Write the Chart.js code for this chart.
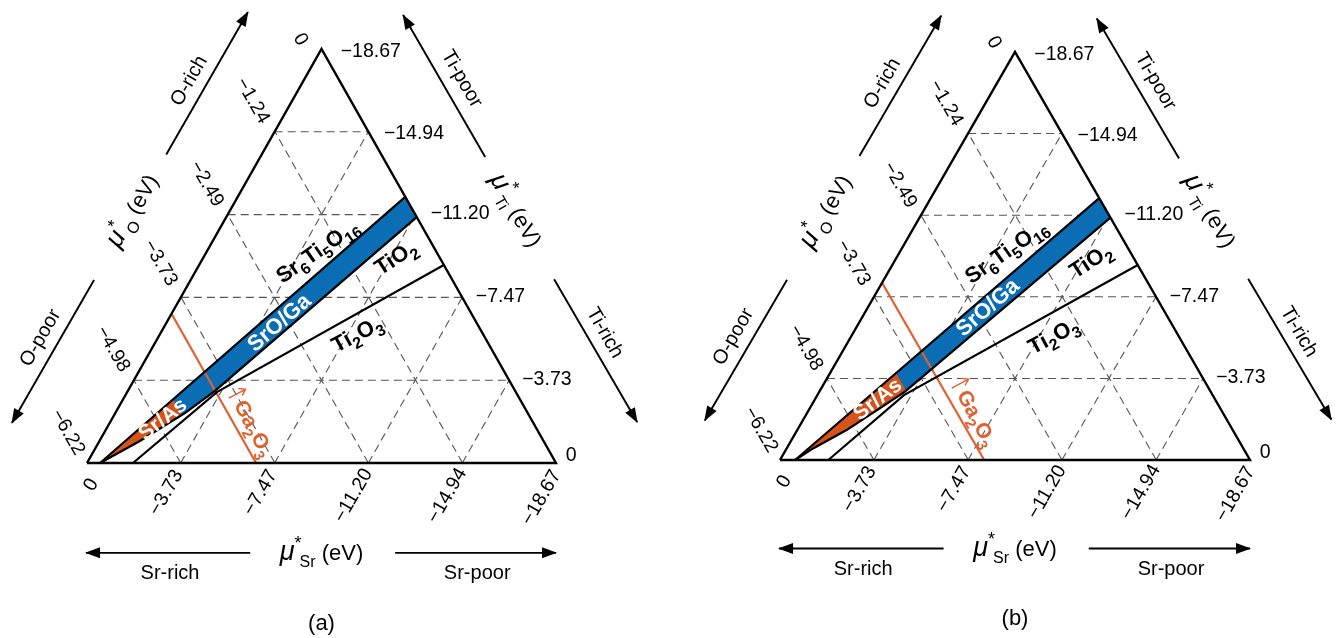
<!DOCTYPE html>
<html>
<head>
<meta charset="utf-8">
<title>SrTiO3 chemical potential diagrams</title>
<script src="https://cdn.jsdelivr.net/npm/chart.js@4.4.1/dist/chart.umd.min.js"></script>
<style>
  html, body { margin: 0; padding: 0; background: #fff; }
  #wrap { position: relative; width: 1336px; height: 638px; overflow: hidden; }
  #wrap canvas { position: absolute; top: 0; }
</style>
</head>
<body>
<div id="wrap">
  <canvas id="chartA" width="668" height="638" style="left:0px"></canvas>
  <canvas id="chartB" width="668" height="638" style="left:668px"></canvas>
</div>
<script>
// SrTiO3 stability: muSr + muTi + 3 muO = dH
var dH = -18.67;
var srTicks = [0, -3.73, -7.47, -11.20, -14.94, -18.67];
var tiTicks = [0, -3.73, -7.47, -11.20, -14.94, -18.67];
var oTicks = [0, -1.24, -2.49, -3.73, -4.98, -6.22];
var srTickText = ['0', '\u22123.73', '\u22127.47', '\u221211.20', '\u221214.94', '\u221218.67'];
var tiTickText = ['0', '\u22123.73', '\u22127.47', '\u221211.20', '\u221214.94', '\u221218.67'];
var oTickText = ['0', '\u22121.24', '\u22122.49', '\u22123.73', '\u22124.98', '\u22126.22'];

// (a) boundaries, as (muSr, muTi) pairs
var aSr6Ti5O16Sr = [-0.52, -6.67];
var aSr6Ti5O16Ti = [0, -12.00];
var aTiO2Sr = [-7.58, -3.47, -2.77, -1.61, -0.52];
var aTiO2Ti = [-11.09, -3.25, -2.25, -0.99, 0];
var aTi2O3Sr = [-9.74, -3.57, -1.83];
var aTi2O3Ti = [-8.93, -3.20, 0];
var aGa2O3O = -3.98;   // muO of the Ga2O3 limit
var aSrAsO = -4.61;    // muO splitting Sr/As from SrO/Ga

// (b) boundaries
var bSr6Ti5O16Sr = [-0.60, -6.69];
var bSr6Ti5O16Ti = [0, -11.98];
var bTiO2Sr = [-7.58, -3.40, -2.79, -1.96, -1.06, -0.60];
var bTiO2Ti = [-11.09, -3.13, -2.37, -1.37, -0.54, 0];
var bTi2O3Sr = [-9.75, -3.44, -1.92];
var bTi2O3Ti = [-8.92, -2.97, 0];
var bGa2O3O = -3.52;
var bSrAsO = -4.03;

var FONT = "'Liberation Sans', Arial, Helvetica, sans-serif";
var BLUE = '#0b6db4';
var ORANGE_FILL = '#d4541b';
var ORANGE = '#e0602e';
var GRID = '#555555';
var canvasW = 668, canvasH = 638;

// fractions (fSr, fTi); fO = 1 - fSr - fTi
function toFrac(muSr, muTi) { return [muSr / dH, muTi / dH]; }
function toXY(f) { return { x: f[0] + f[1] / 2, y: f[1] }; }

function boundary(srVals, tiVals) {
  return srVals.map(function (s, i) { return toXY(toFrac(s, tiVals[i])); });
}

// keep the part of a polygon on one side of a constant-muO line
function splitByO(poly, muO, poorSide) {
  var c = 3 * muO / dH;
  var out = [];
  for (var i = 0; i < poly.length; i++) {
    var p = poly[i], q = poly[(i + 1) % poly.length];
    var dp = (1 - p[0] - p[1]) - c, dq = (1 - q[0] - q[1]) - c;
    if (!poorSide) { dp = -dp; dq = -dq; }
    if (dp >= 0) out.push(p);
    if ((dp >= 0) !== (dq >= 0)) {
      var t = dp / (dp - dq);
      out.push([p[0] + t * (q[0] - p[0]), p[1] + t * (q[1] - p[1])]);
    }
  }
  out.push(out[0]);
  return out.map(toXY);
}

function line(points, color, width, order, extra) {
  var ds = {
    data: points, showLine: true, borderColor: color, borderWidth: width,
    pointRadius: 0, pointHoverRadius: 0, fill: false, tension: 0,
    order: order, clip: false, borderJoinStyle: 'miter'
  };
  for (var k in extra || {}) ds[k] = extra[k];
  return ds;
}

var arrows = [
  [0.169, 0.745, 0.343, 1.089],   // O-rich
  [0.849, 0.739, 0.674, 1.082],   // Ti-poor
  [0.015, 0.442, -0.160, 0.097],  // O-poor
  [0.996, 0.444, 1.173, 0.099],   // Ti-rich
  [0.348, -0.217, -0.002, -0.217],// Sr-rich
  [0.657, -0.217, 1.000, -0.217]  // Sr-poor
];

function buildDatasets(p) {
  var sets = [];
  var dash = { borderDash: [8, 5] };
  // dashed grid
  for (var i = 1; i < 5; i++) {
    var fs = srTicks[i] / dH, ft = tiTicks[i] / dH, fo = 3 * oTicks[i] / dH;
    sets.push(line([toXY([fs, 0]), toXY([fs, 1 - fs])], GRID, 1.1, 5, dash));
    sets.push(line([toXY([0, ft]), toXY([1 - ft, ft])], GRID, 1.1, 5, dash));
    sets.push(line([toXY([1 - fo, 0]), toXY([0, 1 - fo])], GRID, 1.1, 5, dash));
  }
  // stability band, split into Sr/As and SrO/Ga parts
  var upper = p.sr6Sr.map(function (s, i) { return toFrac(s, p.sr6Ti[i]); });
  var lower = p.tio2Sr.map(function (s, i) { return toFrac(s, p.tio2Ti[i]); });
  var band = upper.concat(lower.slice(0, lower.length - 1));
  sets.push(line(splitByO(band, p.srAsO, true), ORANGE_FILL, 0.6, 4,
    { fill: 'shape', backgroundColor: ORANGE_FILL }));
  sets.push(line(splitByO(band, p.srAsO, false), BLUE, 0.6, 4,
    { fill: 'shape', backgroundColor: BLUE }));
  // Ga2O3 limit, constant muO
  var fg = 3 * p.gaO / dH;
  sets.push(line([toXY([1 - fg, 0]), toXY([0, 1 - fg])], ORANGE, 2.2, 3));
  // phase boundaries
  sets.push(line(boundary(p.sr6Sr, p.sr6Ti), '#000', 2.2, 1));
  sets.push(line(boundary(p.tio2Sr, p.tio2Ti), '#000', 2.2, 1));
  sets.push(line(boundary(p.ti2o3Sr, p.ti2o3Ti), '#000', 2.2, 1));
  // triangle
  sets.push(line([toXY([0, 0]), toXY([1, 0]), toXY([0, 1]), toXY([0, 0])], '#000', 2.4, 0));
  // direction arrows
  arrows.forEach(function (a) {
    sets.push(line([{ x: a[0], y: a[1] }, { x: a[2], y: a[3] }], '#000', 1.9, 0));
  });
  return sets;
}

function fontOf(p) {
  return (p.i ? 'italic ' : '') + (p.b ? 'bold ' : '') + p.s + 'px ' + FONT;
}

function drawRich(ctx, x, y, rot, parts, align, color) {
  ctx.save();
  ctx.translate(x, y);
  ctx.rotate(rot * Math.PI / 180);
  ctx.fillStyle = color;
  ctx.strokeStyle = color;
  ctx.textBaseline = 'alphabetic';
  var total = 0, main = 0, widths = [];
  parts.forEach(function (p) {
    var w;
    if (p.arrow) w = p.arrow;
    else { ctx.font = fontOf(p); w = ctx.measureText(p.t).width; }
    widths.push(w);
    total += w + (p.dx || 0);
    if (!p.dy && !p.arrow) main = Math.max(main, p.s);
  });
  var cx = align === 'left' ? 0 : -total / 2;
  var base = main * 0.36;
  parts.forEach(function (p, i) {
    cx += p.dx || 0;
    if (p.arrow) {
      var ax = cx + widths[i] / 2, top = base - 18;
      ctx.lineWidth = 1.4;
      ctx.beginPath();
      ctx.moveTo(ax, base + 1); ctx.lineTo(ax, top);
      ctx.moveTo(ax - 4, top + 6); ctx.lineTo(ax, top); ctx.lineTo(ax + 4, top + 6);
      ctx.stroke();
    } else {
      ctx.font = fontOf(p);
      ctx.fillText(p.t, cx, base + (p.dy || 0));
    }
    cx += widths[i];
  });
  ctx.restore();
}

function txt(t, s) { return [{ t: t, s: s }]; }
function muTitle(sub) {
  return [{ t: '\u03bc', s: 27, i: 1 }, { t: '*', s: 18, dy: -11 },
          { t: sub, s: 16, dy: 7, dx: -2 }, { t: ' (eV)', s: 22 }];
}
function formula(list) {
  return list.map(function (e) {
    return typeof e === 'string' ? { t: e, s: 22, b: 1 } : { t: String(e[0]), s: 16, b: 1, dy: 6 };
  });
}

var leftTickPos = [[0.458, 1.025], [0.356, 0.877], [0.258, 0.676], [0.159, 0.485], [0.058, 0.277], [-0.038, 0.076]];
var rightTickPos = [[1.021, 0.021], [0.928, 0.205], [0.829, 0.405], [0.733, 0.606], [0.633, 0.800], [0.541, 0.997]];
var bottomTickPos = [[0.006, -0.051], [0.166, -0.070], [0.367, -0.070], [0.565, -0.077], [0.765, -0.077], [0.966, -0.082]];

function buildLabels(p) {
  var L = [];
  oTickText.forEach(function (t, i) { L.push({ at: leftTickPos[i], rot: 60, parts: txt(t, 19.5) }); });
  tiTickText.forEach(function (t, i) { L.push({ at: rightTickPos[i], rot: 0, parts: txt(t, 19.5), align: 'left' }); });
  srTickText.forEach(function (t, i) { L.push({ at: bottomTickPos[i], rot: -60, parts: txt(t, 19.5) }); });
  L.push({ at: [0.093, 0.612], rot: -60, parts: muTitle('O') });
  L.push({ at: [0.919, 0.613], rot: 60, parts: muTitle('Ti') });
  L.push({ at: [0.500, -0.211], rot: 0, parts: muTitle('Sr') });
  L.push({ at: [0.215, 0.925], rot: -60, parts: txt('O-rich', 20) });
  L.push({ at: [0.802, 0.930], rot: 60, parts: txt('Ti-poor', 20) });
  L.push({ at: [-0.102, 0.304], rot: -60, parts: txt('O-poor', 20) });
  L.push({ at: [1.107, 0.316], rot: 60, parts: txt('Ti-rich', 20) });
  L.push({ at: [0.177, -0.263], rot: 0, parts: txt('Sr-rich', 20) });
  L.push({ at: [0.832, -0.263], rot: 0, parts: txt('Sr-poor', 20) });
  L.push({ at: [0.500, -0.385], rot: 0, parts: txt(p.name, 22) });
  var q = p.tags;
  L.push({ at: q.sr6, rot: -35, parts: formula(['Sr', [6], 'Ti', [5], 'O', [16]]) });
  L.push({ at: q.tio2, rot: -33, parts: formula(['TiO', [2]]) });
  L.push({ at: q.ti2o3, rot: -28, parts: formula(['Ti', [2], 'O', [3]]) });
  L.push({ at: q.sro, rot: -41, parts: [{ t: 'SrO/Ga', s: 22, b: 1 }], color: '#fff' });
  L.push({ at: q.srAs, rot: -38, parts: [{ t: 'Sr/As', s: 21, b: 1 }], color: '#fff' });
  L.push({ at: q.ga, rot: 62, color: ORANGE, parts: [{ arrow: 12 }, { t: 'Ga', s: 21, b: 1, dx: 2 },
    { t: '2', s: 15, b: 1, dy: 6 }, { t: 'O', s: 21, b: 1 }, { t: '3', s: 15, b: 1, dy: 6 }] });
  return L;
}

function makeDecor(p) {
  var labels = buildLabels(p);
  return {
    id: 'decor',
    afterDatasetsDraw: function (chart) {
      var ctx = chart.ctx, sx = chart.scales.x, sy = chart.scales.y;
      // arrow heads
      ctx.save();
      ctx.fillStyle = '#000';
      arrows.forEach(function (a) {
        var x0 = sx.getPixelForValue(a[0]), y0 = sy.getPixelForValue(a[1]);
        var x1 = sx.getPixelForValue(a[2]), y1 = sy.getPixelForValue(a[3]);
        var len = Math.hypot(x1 - x0, y1 - y0), dx = (x1 - x0) / len, dy = (y1 - y0) / len;
        var hl = 14, hw = 5.5;
        ctx.beginPath();
        ctx.moveTo(x1 + dx * 1, y1 + dy * 1);
        ctx.lineTo(x1 - dx * hl - dy * hw, y1 - dy * hl + dx * hw);
        ctx.lineTo(x1 - dx * hl + dy * hw, y1 - dy * hl - dx * hw);
        ctx.closePath();
        ctx.fill();
      });
      ctx.restore();
      labels.forEach(function (l) {
        drawRich(ctx, sx.getPixelForValue(l.at[0]), sy.getPixelForValue(l.at[1]),
          l.rot, l.parts, l.align, l.color || '#000');
      });
    }
  };
}

var panels = [
  {
    canvas: 'chartA', name: '(a)', origin: [87, 463], w: 469, h: 414,
    sr6Sr: aSr6Ti5O16Sr, sr6Ti: aSr6Ti5O16Ti, tio2Sr: aTiO2Sr, tio2Ti: aTiO2Ti,
    ti2o3Sr: aTi2O3Sr, ti2o3Ti: aTi2O3Ti, gaO: aGa2O3O, srAsO: aSrAsO,
    tags: { sr6: [0.490, 0.514], tio2: [0.657, 0.498], ti2o3: [0.575, 0.313],
            sro: [0.408, 0.341], srAs: [0.160, 0.108], ga: [0.350, 0.099] }
  },
  {
    canvas: 'chartB', name: '(b)', origin: [112, 460], w: 470, h: 408,
    sr6Sr: bSr6Ti5O16Sr, sr6Ti: bSr6Ti5O16Ti, tio2Sr: bTiO2Sr, tio2Ti: bTiO2Ti,
    ti2o3Sr: bTi2O3Sr, ti2o3Ti: bTi2O3Ti, gaO: bGa2O3O, srAsO: bSrAsO,
    tags: { sr6: [0.480, 0.513], tio2: [0.660, 0.490], ti2o3: [0.581, 0.306],
            sro: [0.440, 0.376], srAs: [0.206, 0.151], ga: [0.413, 0.118] }
  }
];

panels.forEach(function (p) {
  var ctx = document.getElementById(p.canvas).getContext('2d');
  new Chart(ctx, {
    type: 'scatter',
    data: { datasets: buildDatasets(p) },
    options: {
      responsive: false,
      animation: false,
      events: [],
      layout: { padding: 0 },
      scales: {
        x: { type: 'linear', display: false, min: -p.origin[0] / p.w, max: (canvasW - p.origin[0]) / p.w },
        y: { type: 'linear', display: false, min: -(canvasH - p.origin[1]) / p.h, max: p.origin[1] / p.h }
      },
      plugins: { legend: { display: false }, tooltip: { enabled: false } }
    },
    plugins: [makeDecor(p)]
  });
});
</script>
</body>
</html>
